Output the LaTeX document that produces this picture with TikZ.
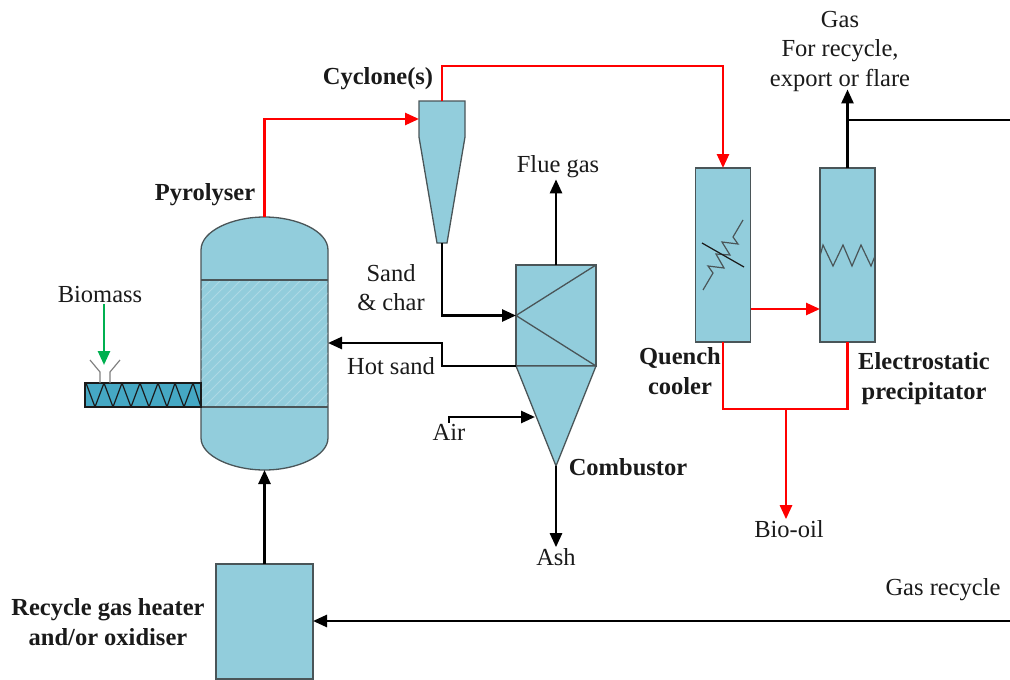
\documentclass[tikz,border=0pt]{standalone}
\usepackage{fontspec}
\setmainfont{Liberation Serif}
\usepackage{xcolor}
\usetikzlibrary{positioning, arrows.meta}
\definecolor{unitfill}{HTML}{92CDDC}
\definecolor{screwfill}{HTML}{45A8C4}
\definecolor{edge}{HTML}{4A5558}
\definecolor{hotline}{HTML}{FF0000}
\definecolor{feed}{HTML}{00B050}
\definecolor{ink}{HTML}{1A1A1A}
\tikzset{
  unit/.style={draw=edge, fill=unitfill, line width=1.3pt, inner sep=0pt, outer sep=0pt},
  box/.style={unit, minimum width=#1, minimum height=174pt},
  hull/.style={inner sep=0pt, outer sep=0pt},
  lbl/.style={font=\fontsize{24.5}{29}\selectfont, text=ink, align=center, inner sep=1pt},
  blbl/.style={lbl, font=\fontsize{24.5}{30}\selectfont\bfseries},
  ar/.style={-{Triangle[length=14pt, width=12pt]}, line width=2.6pt, black},
  arr/.style={-{Triangle[length=14pt, width=12pt]}, line width=2.6pt, hotline},
  pipe/.style={line width=2.6pt, black},
  piper/.style={line width=2.6pt, hotline},
  thin line/.style={draw=ink, line width=1.2pt},
}
\begin{document}
\begin{tikzpicture}[x=1pt, y=-1pt]
  \useasboundingbox (0,0) rectangle (1010,680);

  % --- pyrolyser ---
  \node[hull, minimum width=127pt, minimum height=253pt] (pyro) at (264.5,343.5) {};
  \draw[unit] (201,250) .. controls (201,231) and (232,217) .. (264.5,217)
    .. controls (297,217) and (328,231) .. (328,250) -- (328,438)
    .. controls (328,456) and (297,470) .. (264.5,470)
    .. controls (232,470) and (201,456) .. (201,438) -- cycle;
  \begin{scope}
    \clip (201,280) rectangle (328,407);
    \foreach \i in {0,10,...,260}
      \draw[white, opacity=.25, line width=.8pt] (201+\i-127,407) -- ++(127,-127);
  \end{scope}
  \draw[thin line, draw=edge, line width=1.3pt] (201,280) -- (328,280);
  \draw[thin line, draw=edge, line width=1.3pt] (201,407) -- (328,407);

  % --- screw feeder ---
  \node[unit, fill=screwfill, draw=ink, minimum width=116pt, minimum height=24pt] (screw) at (143,395) {};
  \foreach \a/\b in {86/95, 104/113, 122/131, 140/149, 158/167, 175/184, 193/201}
    \draw[thin line] (\a,383) -- (\b,407);
  \foreach \a/\b in {95/104, 113/122, 131/140, 149/158, 167/175, 184/193}
    \draw[thin line] (\a,407) -- (\b,383);
  \draw[draw=gray, line width=1.2pt] (90,360) -- (100,372) -- (100,383) (110,383) -- (110,372) -- (120,360);

  % --- cyclone ---
  \node[hull, minimum width=46pt, minimum height=142pt] (cyc) at (442,172) {};
  \draw[unit] (419,101) -- (465,101) -- (465,137) -- (447,243) -- (437,243) -- (419,137) -- cycle;
  \coordinate (cycin) at (419,119);
  \coordinate (cycout) at (442,243);

  % --- combustor ---
  \node[unit, minimum width=80pt, minimum height=101pt] (comb) at (556,315.5) {};
  \draw[unit] (comb.south west) -- (comb.south east) -- (556,466) -- cycle;
  \coordinate (combtip) at (556,466);
  \coordinate (airin) at (535,417);
  \draw[thin line, draw=edge, line width=1.3pt] (comb.north east) -- (comb.west) -- (comb.south east);

  % --- quench cooler and precipitator ---
  \node[box=55pt] (quench) at (723,255) {};
  \node[box=55pt] (esp) at (847.5,255) {};
  \draw[thin line, draw=edge] (743,220) -- (733,237) -- (738,244) -- (722,242) -- (730,255) -- (716,254) -- (724,268) -- (708,266) -- (713,273) -- (703,290);
  \draw[thin line] (702,243) -- (744,267);
  \draw[thin line, draw=edge] (esp.west |- 0,256) -- (823,245) -- (833,266) -- (843,245) -- (852,266) -- (861,245) -- (871,266) -- (esp.east |- 0,256);

  % --- heater ---
  \node[unit, minimum width=97pt, minimum height=115pt] (heater) at (264.5,621.5) {};

  % --- labels ---
  \node[lbl] (gas) at (840,20) {Gas};
  \node[lbl] (forrec) at (840,51) {For recycle,};
  \node[lbl] (export) at (840,80) {export or flare};
  \node[blbl] (cyclab) at (378,79) {Cyclone(s)};
  \node[blbl] (pyrolab) at (205,195) {Pyrolyser};
  \node[lbl] (biomass) at (100,295) {Biomass};
  \node[lbl] (flue) at (558,167) {Flue gas};
  \node[lbl] (sand) at (391,288) {Sand\\\& char};
  \node[lbl] (hot) at (391,366) {Hot sand};
  \node[lbl] (air) at (449,432) {Air};
  \node[blbl] (comblab) at (628,467) {Combustor};
  \node[lbl] (ash) at (556,557) {Ash};
  \node[blbl] (quenchlab) at (680,371) {Quench\\cooler};
  \node[blbl] (esplab) at (924,379) {Electrostatic\\precipitator};
  \node[lbl] (oil) at (789,529) {Bio-oil};
  \node[lbl] (recyc) at (943,590) {Gas recycle};
  \node[blbl] (heatlab) at (108,622) {Recycle gas heater\\and/or oxidiser};

  % --- free ends ---
  \coordinate (gasout) at (1010,120);
  \coordinate (gasin) at (1010,621);
  \coordinate (oiltee) at (786,409);

  % --- arrows ---
  \draw[arr] (pyro.north) |- (cycin);
  \draw[arr] (cyc.north) |- (723,66) -- (quench.north);
  \draw[arr] (quench.east |- 0,309) -- (esp.west |- 0,309);
  \draw[piper] (quench.south) |- (oiltee) -| (esp.south);
  \draw[arr] (oiltee) -- (oiltee |- oil.north);
  \draw[ar] (cycout) |- (comb.west);
  \draw[ar] (comb.south west) -- (442,366) |- (pyro.east |- 0,343);
  \draw[ar] (comb.north) -- (comb.north |- flue.south);
  \draw[ar] (combtip) -- (combtip |- ash.north);
  \draw[ar] (air.north) |- (airin);
  \draw[ar, shorten >=-3pt] (esp.north) -- (esp.north |- export.south);
  \draw[pipe] (esp.north |- gasout) -- (gasout);
  \draw[ar] (gasin) -- (heater.east |- gasin);
  \draw[ar] (heater.north) -- (pyro.south);
  \draw[-{Triangle[length=14pt, width=12pt]}, line width=2.6pt, feed] (biomass.south -| 104,0) -- (104,365);
\end{tikzpicture}
\end{document}
